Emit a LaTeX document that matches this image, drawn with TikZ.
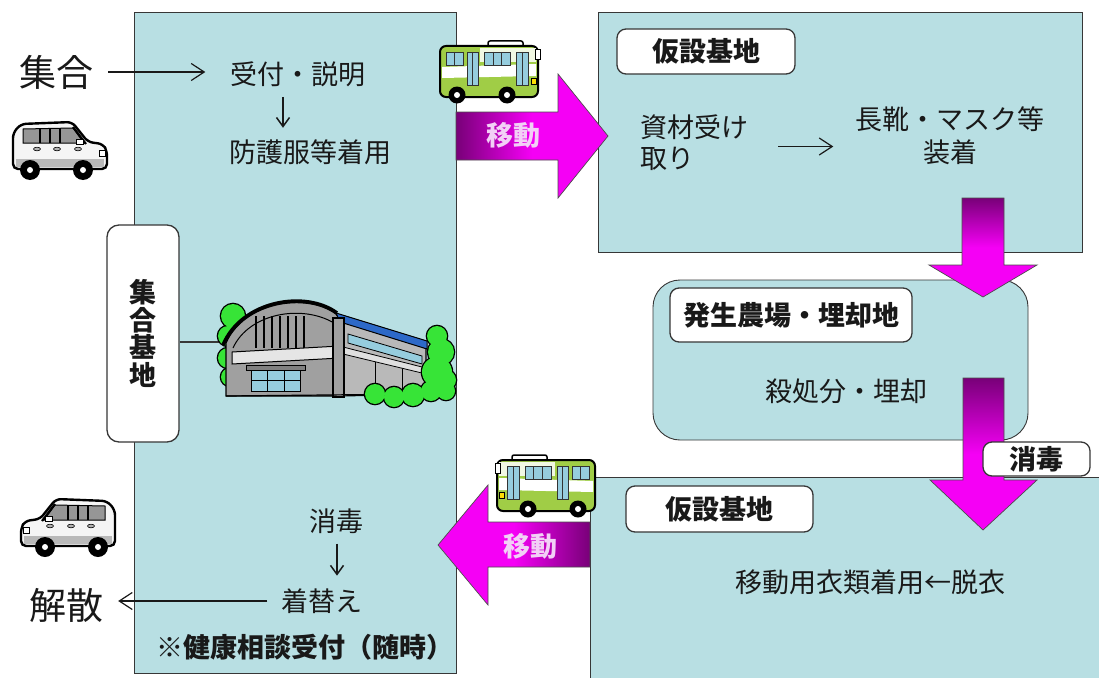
\documentclass[tikz,border=0pt]{standalone}
\usepackage{fontspec}
\setmainfont{Noto Sans CJK JP}
\usetikzlibrary{arrows.meta,calc}

\definecolor{boxfill}{RGB}{184,223,227}
\definecolor{edge}{RGB}{55,55,55}
\definecolor{deeppurple}{RGB}{120,0,120}
\definecolor{hotpink}{RGB}{245,0,245}
\definecolor{movetext}{RGB}{242,208,246}
\definecolor{leaf}{RGB}{55,228,55}
\definecolor{busgreen}{RGB}{160,205,70}
\definecolor{glass}{RGB}{150,205,222}
\definecolor{carbody}{RGB}{245,245,245}
\definecolor{carglass}{RGB}{150,150,150}
\definecolor{wall}{RGB}{160,160,160}
\definecolor{wallside}{RGB}{185,185,185}
\definecolor{panel}{RGB}{45,105,200}
\definecolor{ink}{RGB}{25,25,25}

\tikzset{
  area/.style={fill=boxfill, draw=edge, line width=0.9pt, inner sep=0pt, outer sep=0pt},
  tag/.style={fill=white, draw=edge, line width=1.3pt, rounded corners=9pt, inner sep=0pt,
              text=ink, font=\bfseries\fontsize{27}{32}\selectfont},
  txt/.style={text=ink, font=\fontsize{27}{32}\selectfont, inner sep=0pt},
  bigtxt/.style={text=ink, font=\fontsize{37}{42}\selectfont, inner sep=0pt},
  movelabel/.style={text=movetext, font=\bfseries\fontsize{27}{32}\selectfont, inner sep=0pt},
  flowarrow/.style={draw=ink, line width=1.2pt, -{Straight Barb[length=13pt,width=17pt]}},
  steparrow/.style={draw=ink, line width=1.5pt, -{Straight Barb[length=9pt,width=13pt]}},
  bigarrow/.style={draw=black!70, line width=0.7pt},
  outline/.style={draw=black, line width=2.6pt},
  car/.pic={
    \path[draw=black, line width=2.4pt, fill=carbody, rounded corners=5pt]
      (3,48) -- (3,12) -- (11,3) -- (62,1) -- (78,21) -- (93,23) -- (97,30) -- (97,48) -- cycle;
    \path[fill=carglass, draw=black, line width=1pt] (13,8) -- (63,7) -- (74,22) -- (13,22) -- cycle;
    \draw[line width=2pt] (30,8) -- (30,22) (40,8) -- (40,22) (50,7) -- (50,22);
    \draw[line width=2.2pt] (63,6) -- (76,23);
    \path[fill=white, draw=black, line width=0.6pt] (66,18) rectangle (73,23);
    \foreach \x in {27,47,68} \path[fill=gray!60, draw=black, line width=0.6pt] (\x,28) ellipse (3.5pt and 1.8pt);
    \path[fill=gray!55] (6,38) rectangle (94,46);
    \path[fill=white, draw=black, line width=0.6pt] (89,29) rectangle (95,35);
    \foreach \x in {20,73} {
      \path[fill=black] (\x,49) circle (10pt);
      \path[fill=white] (\x,49) circle (3pt);
    }
  },
  bus/.pic={
    \path[draw=black, line width=1.5pt, fill=white, rounded corners=2pt] (48,1) rectangle (83,7);
    \path[draw=black, line width=2pt, fill=busgreen, rounded corners=6pt] (0,6) rectangle (98,57);
    \path[fill=white!85!busgreen] (40,8) -- (96,8) -- (96,22) -- (40,22) -- cycle;
    \path[fill=white] (2,27) -- (96,24) -- (96,36) -- (2,38) -- cycle;
    \foreach \a/\b/\c/\d in {6/12/23/25, 44/12/70/25, 27/12/38/45, 76/12/88/45}
      \path[fill=glass, draw=black!80, line width=0.9pt] (\a,\b) rectangle (\c,\d);
    \draw[black!80, line width=0.8pt] (14.5,12) -- (14.5,25) (53,12) -- (53,25) (61.5,12) -- (61.5,25)
      (32.5,12) -- (32.5,45) (82,12) -- (82,45);
    \path[fill=white, draw=black, line width=0.8pt] (95,9) rectangle (100,19);
    \path[fill=yellow!80!orange, draw=black, line width=0.5pt] (91,38) rectangle (96,44);
    \foreach \x in {17,67} {
      \path[fill=black] (\x,55) circle (8.5pt);
      \path[fill=white] (\x,55) circle (3pt);
    }
  },
}

\begin{document}
\begin{tikzpicture}[x=1pt, y=-1pt]
\fill[white] (0,0) rectangle (1099,677);
\clip (0,0) rectangle (1099,677);

% ---------- areas ----------
\node[area, minimum width=322pt, minimum height=661pt, anchor=north west] (base) at (134,12) {};
\node[area, minimum width=484pt, minimum height=240pt, anchor=north west] (camp1) at (598,12) {};
\node[area, rounded corners=27pt, minimum width=375pt, minimum height=160pt, anchor=north west] (farm) at (653,280) {};
\node[area, minimum width=540pt, minimum height=240pt, anchor=north west] (camp2) at (590,477) {};

% ---------- assembly hall ----------
\coordinate (hall) at (226,342);
\node[tag, rounded corners=12pt, minimum width=72pt, minimum height=217pt, align=center,
      font=\bfseries\fontsize{27}{27.5}\selectfont] (shugo) at (143,333.5) {集\\合\\基\\地};
\draw[edge, line width=1.2pt] (shugo.east |- hall) -- (hall);

% tree behind the hall
\foreach \x/\y/\r in {233/316/12, 228/336/10, 228/358/10, 230/377/9}
  \path[outline] (\x,\y) circle (\r pt);
\foreach \x/\y/\r in {233/316/12, 228/336/10, 228/358/10, 230/377/9}
  \path[fill=leaf] (\x,\y) circle (\r pt);

% hall body
\path[fill=wallside, draw=black, line width=1.2pt] (340,320) -- (426,346) -- (426,394) -- (340,396) -- cycle;
\path[fill=glass, draw=black, line width=0.8pt] (348,334) -- (422,356) -- (422,364) -- (348,343) -- cycle;
\path[fill=gray!25, draw=black, line width=0.8pt] (343,347) -- (426,368) -- (426,374) -- (343,354) -- cycle;
\draw[line width=1pt] (375,362) -- (375,395) (402,369) -- (402,394);
\path[fill=wall, draw=black, line width=1.2pt] (226,396) -- (226,343) .. controls (244,302) and (306,292) .. (336,314) -- (340,320) -- (340,396) -- cycle;
\foreach \x in {256,264,272,280,288,296,304}
  \draw[line width=1.4pt] (\x,316) -- (\x,348);
\draw[line width=1pt] (233,348) .. controls (249,313) and (302,304) .. (334,323);
\draw[line width=3.5pt] (223,345) .. controls (242,300) and (306,290) .. (337,313);
\path[fill=panel, draw=black, line width=1pt] (336,313) -- (427,341) -- (427,349) -- (340,322) -- cycle;
\path[fill=gray!20, draw=black, line width=1pt] (232,352) -- (340,346) -- (340,358) -- (232,364) -- cycle;
\path[fill=gray, draw=black, line width=0.8pt] (246,365) rectangle (305,370);
\path[fill=glass, draw=black, line width=1pt] (251,370) rectangle (300,391);
\draw[line width=1pt] (267,370) -- (267,391) (284,370) -- (284,391) (251,380) -- (300,380);
\path[fill=wall, draw=black, line width=1.2pt] (333,318) rectangle (344,397);
\draw[line width=1.2pt] (226,396) -- (426,394);

% trees in front of the hall
\foreach \x/\y/\r in {437/336/10, 441/352/13, 437/372/15, 446/380/10, 375/394/10, 394/397/10, 413/395/11, 431/391/10, 446/391/9}
  \path[outline] (\x,\y) circle (\r pt);
\foreach \x/\y/\r in {437/336/10, 441/352/13, 437/372/15, 446/380/10, 375/394/10, 394/397/10, 413/395/11, 431/391/10, 446/391/9}
  \path[fill=leaf] (\x,\y) circle (\r pt);

% ---------- labels ----------
\node[tag, minimum width=178pt, minimum height=45pt] (kasetsu1) at (706,51.5) {仮設基地};
\node[tag, minimum width=242pt, minimum height=54pt] (farmtag) at (791,315) {発生農場・埋却地};
\node[tag, minimum width=187pt, minimum height=46pt] (kasetsu2) at (719.5,509) {仮設基地};

% ---------- transfer arrows ----------
\path[bigarrow, left color=deeppurple, right color=hotpink, middle color=hotpink]
  (456,112) -- (558,112) -- (558,74) -- (608,136) -- (558,198) -- (558,160) -- (456,160) -- cycle;
\node[movelabel] (move1) at (513,135) {移動};

\path[bigarrow, top color=deeppurple, bottom color=hotpink, middle color=hotpink]
  (962,198) -- (1004,198) -- (1004,265) -- (1037,265) -- (983,297) -- (929,265) -- (962,265) -- cycle;

\path[bigarrow, top color=deeppurple, bottom color=hotpink, middle color=hotpink]
  (963,378) -- (1004,378) -- (1004,480) -- (1037,480) -- (983,530) -- (930,480) -- (963,480) -- cycle;
\node[tag, minimum width=107pt, minimum height=34pt] (shodokutag) at (1036.5,459) {消毒};

\path[bigarrow, right color=deeppurple, left color=hotpink, middle color=hotpink]
  (590,522) -- (488,522) -- (488,485) -- (438,545) -- (488,605) -- (488,567) -- (590,567) -- cycle;
\node[movelabel] (move2) at (530,546) {移動};

% ---------- vehicles ----------
\pic at (440,40) {bus};
\pic[xscale=-1] at (595,454) {bus};
\pic at (10,121) {car};
\pic[xscale=-1] at (118,498) {car};

% ---------- assembly base texts ----------
\node[bigtxt] (gather) at (56,72) {集合};
\node[txt] (recv) at (298,74) {受付・説明};
\node[txt] (suit) at (310,152) {防護服等着用};
\draw[flowarrow, shorten <=15pt, shorten >=25pt] (gather.east) -- (gather.east -| recv.west);
\draw[steparrow] ($(recv.south)+(-15,10)$) -- ($(recv.south)+(-15,41)$);

\node[txt] (wash) at (336,521) {消毒};
\node[txt] (change) at (322,601) {着替え};
\node[bigtxt] (kaisan) at (66,605) {解散};
\draw[steparrow] ($(wash.south)+(1,10)$) -- ($(wash.south)+(1,42)$);
\draw[flowarrow, shorten <=14pt, shorten >=15pt] (change.west) -- (change.west -| kaisan.east);
\node[txt, font=\bfseries\fontsize{27}{32}\selectfont] (health) at (305,647) {※健康相談受付（随時）};

% ---------- temporary bases and farm ----------
\node[txt, align=left, anchor=west, font=\fontsize{27}{31}\selectfont] (shizai) at (640,142.5) {資材受け\\取り};
\node[txt, align=center, font=\fontsize{27}{33}\selectfont] (boots) at (950,136) {長靴・マスク等\\装着};
\draw[flowarrow] ($(shizai.east)+(30,4)$) -- ($(shizai.east -| boots.west)+(-22,4)$);
\node[txt] (cull) at (846,391) {殺処分・埋却};
\node[txt] (clothes) at (870,582) {移動用衣類着用←脱衣};
\end{tikzpicture}
\end{document}
